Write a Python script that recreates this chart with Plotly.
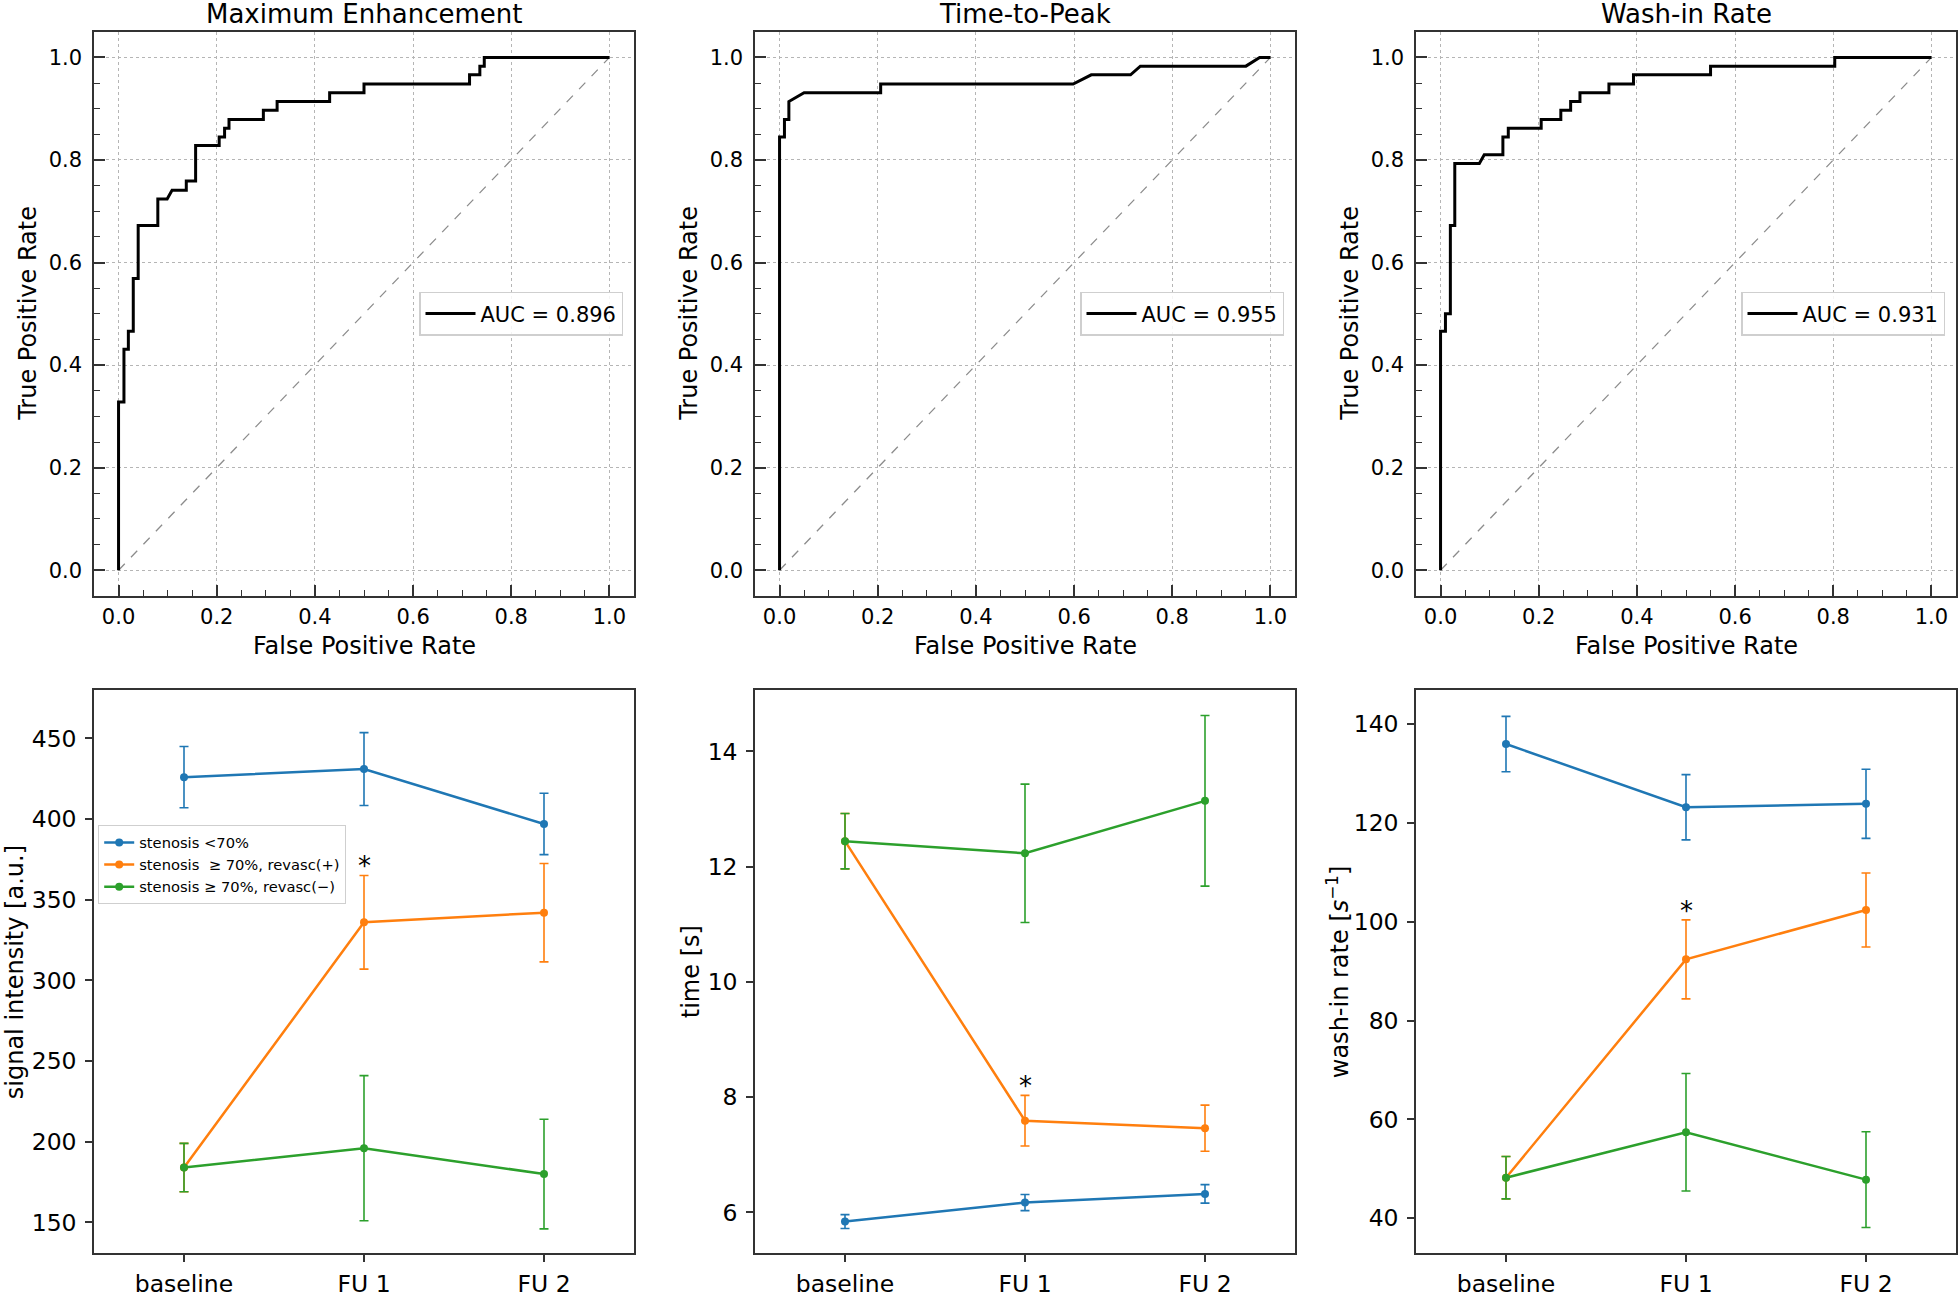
import plotly.graph_objects as go

# ---------------- data ----------------
roc_titles = ["Maximum Enhancement", "Time-to-Peak", "Wash-in Rate"]
auc_values = [0.896, 0.955, 0.931]

fpr_me = [0, 0, 0.011, 0.011, 0.020, 0.020, 0.030, 0.030, 0.040, 0.040, 0.080, 0.080, 0.099, 0.109,
          0.138, 0.138, 0.157, 0.157, 0.205, 0.205, 0.216, 0.216, 0.225, 0.225, 0.295, 0.295,
          0.323, 0.323, 0.430, 0.430, 0.500, 0.500, 0.715, 0.715, 0.736, 0.736, 0.745, 0.745, 1.0]
tpr_me = [0, 0.328, 0.328, 0.431, 0.431, 0.466, 0.466, 0.569, 0.569, 0.672, 0.672, 0.724, 0.724, 0.741,
          0.741, 0.759, 0.759, 0.828, 0.828, 0.845, 0.845, 0.862, 0.862, 0.879, 0.879, 0.897,
          0.897, 0.914, 0.914, 0.931, 0.931, 0.948, 0.948, 0.966, 0.966, 0.983, 0.983, 1.0, 1.0]

fpr_ttp = [0, 0, 0.010, 0.010, 0.019, 0.019, 0.050, 0.206, 0.206, 0.598, 0.635, 0.715, 0.735, 0.950, 0.978, 1.0]
tpr_ttp = [0, 0.845, 0.845, 0.879, 0.879, 0.914, 0.931, 0.931, 0.948, 0.948, 0.966, 0.966, 0.983, 0.983, 1.0, 1.0]

fpr_wir = [0, 0, 0.010, 0.010, 0.020, 0.020, 0.029, 0.029, 0.079, 0.089, 0.127, 0.127, 0.138, 0.138,
           0.205, 0.205, 0.245, 0.245, 0.265, 0.265, 0.284, 0.284, 0.343, 0.343, 0.393, 0.393,
           0.550, 0.550, 0.803, 0.803, 1.0]
tpr_wir = [0, 0.466, 0.466, 0.500, 0.500, 0.672, 0.672, 0.793, 0.793, 0.810, 0.810, 0.845, 0.845, 0.862,
           0.862, 0.879, 0.879, 0.897, 0.897, 0.914, 0.914, 0.931, 0.931, 0.948, 0.948, 0.966,
           0.966, 0.983, 0.983, 1.0, 1.0]

timepoints = ["baseline", "FU 1", "FU 2"]
group_names = ["stenosis <70%", "stenosis  \u2265 70%, revasc(+)", "stenosis \u2265 70%, revasc(\u2212)"]
group_colors = ["#1f77b4", "#ff7f0e", "#2ca02c"]

si_mean = {"lt70": [426, 431, 397], "rev_pos": [184, 336, 342], "rev_neg": [184, 196, 180]}
si_err = {"lt70": [19, 22.6, 19], "rev_pos": [15, 29, 30.5], "rev_neg": [15, 45, 34]}

ttp_mean = {"lt70": [5.84, 6.17, 6.32], "rev_pos": [12.44, 7.59, 7.46], "rev_neg": [12.44, 12.23, 13.14]}
ttp_err = {"lt70": [0.12, 0.14, 0.16], "rev_pos": [0.48, 0.44, 0.40], "rev_neg": [0.48, 1.2, 1.48]}

wir_mean = {"lt70": [136.0, 123.2, 123.9], "rev_pos": [48.2, 92.4, 102.4], "rev_neg": [48.2, 57.4, 47.8]}
wir_err = {"lt70": [5.6, 6.6, 7.0], "rev_pos": [4.3, 8.0, 7.5], "rev_neg": [4.3, 11.9, 9.7]}

star_y = [375.5, 8.32, 103.7]
bottom_ylabels = ["signal intensity [a.u.]", "time [s]", "wash-in rate [<i>s</i><sup>\u22121</sup>]"]
bottom_ranges = [[130.9, 479.9], [5.29, 15.06], [32.9, 146.9]]
bottom_dticks = [50, 2, 20]

# ---------------- layout geometry (px) ----------------
W, H = 1960, 1298
FONT = "DejaVu Sans, Liberation Sans, sans-serif"
col_px = [(94, 634), (755, 1295), (1416, 1956)]
top_px = (32, 600)
bot_px = (695, 1262)


def xdom(c):
    return [col_px[c][0] / W, col_px[c][1] / W]


def ydom(r):
    a, b = r
    return [1 - b / H, 1 - a / H]


fig = go.Figure()
layout = dict(
    width=W, height=H, margin=dict(l=0, r=0, t=0, b=0),
    paper_bgcolor="white", plot_bgcolor="white",
    font=dict(family=FONT, color="black"),
    annotations=[],
)

# ---------------- ROC panels ----------------
rocs = [(fpr_me, tpr_me), (fpr_ttp, tpr_ttp), (fpr_wir, tpr_wir)]
legend_keys = ["legend", "legend2", "legend3"]
for i, (fpr, tpr) in enumerate(rocs):
    ax = "" if i == 0 else str(i + 1)
    fig.add_trace(go.Scatter(x=[0, 1], y=[0, 1], mode="lines",
                             line=dict(color="#8c8c8c", width=1.3, dash="dash"),
                             showlegend=False, xaxis="x" + ax, yaxis="y" + ax, hoverinfo="skip"))
    fig.add_trace(go.Scatter(x=fpr, y=tpr, mode="lines", name="AUC = %.3f" % auc_values[i],
                             line=dict(color="black", width=3),
                             legend=legend_keys[i], xaxis="x" + ax, yaxis="y" + ax))
    axis_common = dict(
        range=[-0.05, 1.05], dtick=0.2, tick0=0, tickformat=".1f",
        showgrid=True, gridcolor="#b5b5b5", griddash="dot", gridwidth=1,
        zeroline=False, showline=True, mirror=True, linecolor="#333333", linewidth=1.5,
        ticks="inside", ticklen=11, tickwidth=1.5, tickcolor="#333333",
        minor=dict(ticks="inside", ticklen=6, tickwidth=1.2, dtick=0.05, tick0=0,
                   tickcolor="#333333", showgrid=False),
        tickfont=dict(size=21, family=FONT, color="black"),
    )
    layout["xaxis" + ax] = dict(axis_common, domain=xdom(i), anchor="y" + ax, ticklabelstandoff=1)
    layout["yaxis" + ax] = dict(axis_common, domain=ydom(top_px), anchor="x" + ax, ticklabelstandoff=6)
    legend_right = (col_px[i][1] - 11) / W
    layout[legend_keys[i]] = dict(
        x=legend_right, xanchor="right", y=1 - 316 / H, yanchor="middle",
        font=dict(size=21, family=FONT, color="black"),
        bgcolor="rgba(255,255,255,0.85)", bordercolor="#cfcfcf", borderwidth=1.5,
        itemwidth=50,
    )
    cx = (col_px[i][0] + col_px[i][1]) / 2 / W
    layout["annotations"].append(dict(
        text=roc_titles[i], xref="paper", yref="paper", x=cx, y=1 - 14 / H,
        xanchor="center", yanchor="middle", showarrow=False,
        font=dict(size=26, family=FONT, color="black")))
    layout["annotations"].append(dict(
        text="False Positive Rate", xref="paper", yref="paper", x=cx, y=1 - 651 / H,
        xanchor="center", yanchor="middle", showarrow=False,
        font=dict(size=24, family=FONT, color="black")))
    layout["annotations"].append(dict(
        text="True Positive Rate", xref="paper", yref="paper",
        x=(col_px[i][0] - 66) / W, y=1 - 316 / H, textangle=-90,
        xanchor="center", yanchor="middle", showarrow=False,
        font=dict(size=24, family=FONT, color="black")))

# ---------------- longitudinal panels ----------------
panels = [(si_mean, si_err), (ttp_mean, ttp_err), (wir_mean, wir_err)]
group_keys = ["lt70", "rev_pos", "rev_neg"]
ylabel_offsets = [79, 64, 78]
xs = list(range(len(timepoints)))
for j, (means, errs) in enumerate(panels):
    ax = str(j + 4)
    for g, key in enumerate(group_keys):
        fig.add_trace(go.Scatter(
            x=xs, y=means[key], mode="lines+markers", name=group_names[g],
            line=dict(color=group_colors[g], width=2.5),
            marker=dict(color=group_colors[g], size=8),
            error_y=dict(type="data", array=errs[key], visible=True,
                         color=group_colors[g], thickness=1.6, width=4.5),
            showlegend=(j == 0), legend="legend4",
            xaxis="x" + ax, yaxis="y" + ax))
    layout["xaxis" + ax] = dict(
        domain=xdom(j), anchor="y" + ax, range=[-0.5, 2.5],
        tickmode="array", tickvals=xs, ticktext=timepoints,
        showgrid=False, zeroline=False, showline=True, mirror=True,
        linecolor="#333333", linewidth=1.5,
        ticks="outside", ticklen=7, tickwidth=1.5, tickcolor="#333333",
        tickfont=dict(size=23.5, family=FONT, color="black"), ticklabelstandoff=2)
    layout["yaxis" + ax] = dict(
        domain=ydom(bot_px), anchor="x" + ax, range=bottom_ranges[j], dtick=bottom_dticks[j],
        showgrid=False, zeroline=False, showline=True, mirror=True,
        linecolor="#333333", linewidth=1.5,
        ticks="outside", ticklen=7, tickwidth=1.5, tickcolor="#333333",
        tickfont=dict(size=23.5, family=FONT, color="black"), ticklabelstandoff=4)
    layout["annotations"].append(dict(
        text="*", xref="x" + ax, yref="y" + ax, x=1, y=star_y[j], yshift=-7,
        xanchor="center", yanchor="middle", showarrow=False,
        font=dict(size=26, family=FONT, color="black")))
    layout["annotations"].append(dict(
        text=bottom_ylabels[j], xref="paper", yref="paper",
        x=(col_px[j][0] - ylabel_offsets[j]) / W, y=1 - 979 / H, textangle=-90,
        xanchor="center", yanchor="middle", showarrow=False,
        font=dict(size=24, family=FONT, color="black")))

layout["legend4"] = dict(
    x=98 / W, xanchor="left", y=1 - 831 / H, yanchor="top",
    font=dict(size=14.7, family=FONT, color="black"),
    bgcolor="rgba(255,255,255,0.85)", bordercolor="#cfcfcf", borderwidth=1.2,
    tracegroupgap=0, itemwidth=30)

fig.update_layout(**layout)
fig.write_html("out.html", config={"displayModeBar": False},
               post_script="document.body.style.margin='0';")
